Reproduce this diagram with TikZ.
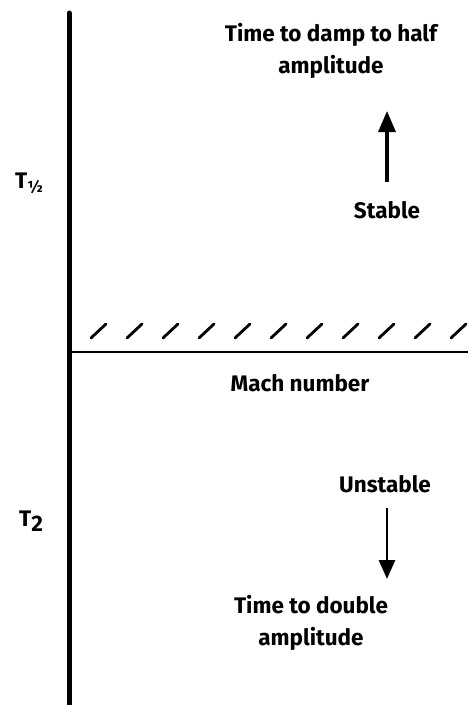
\documentclass[tikz,border=0pt]{standalone}
\usepackage{fontspec}
\setmainfont{Fira Sans}
\usetikzlibrary{arrows.meta,positioning}

\begin{document}
\begin{tikzpicture}[
  x=1pt, y=-1pt,
  font=\fontsize{22.5}{32}\selectfont\bfseries,
  axisv/.style={line width=5pt, line cap=round},
  axish/.style={line width=2.6pt},
  hatch/.style={line width=2.8pt, line cap=round},
  lab/.style={inner sep=0pt, align=center},
  arrup/.style={-{Triangle[length=21pt,width=17pt]}, line width=3.4pt},
  arrdn/.style={-{Triangle[length=19pt,width=16pt]}, line width=2.8pt},
]
\useasboundingbox (0,0) rectangle (468,705);
% axes
\coordinate (top) at (69,13);
\coordinate (bot) at (69,708);
\coordinate (orig) at (69,352);
\coordinate (right) at (468,352);
\draw[axisv] (top) -- (bot);
\draw[axish] (orig) -- (right);
% hatching above the neutral line
\foreach \x in {91,127,...,460}
  \draw[hatch] (\x,338) -- ++(15,-14);
% upper half: stable
\node[lab] (damp) at (331,51) {Time to damp to half\\amplitude};
\node[lab] (stab) at (387,210) {Stable};
\coordinate (upTail) at (387,182);
\coordinate (upTip) at (387,111);
\draw[arrup] (upTail) -- (upTip);
\node[lab] (thalf) at (29,183) {T\raisebox{-0.35ex}{\fontsize{16}{16}\selectfont ½}};
% lower half: unstable
\node[lab] (mach) at (300,383) {Mach number};
\node[lab] (unst) at (385,484) {Unstable};
\coordinate (dnTail) at (387,508);
\coordinate (dnTip) at (387,579);
\draw[arrdn] (dnTail) -- (dnTip);
\node[lab] (dbl) at (311,623) {Time to double\\amplitude};
\node[lab] (ttwo) at (31,521) {T\raisebox{-0.45ex}{2}};
\end{tikzpicture}
\end{document}
